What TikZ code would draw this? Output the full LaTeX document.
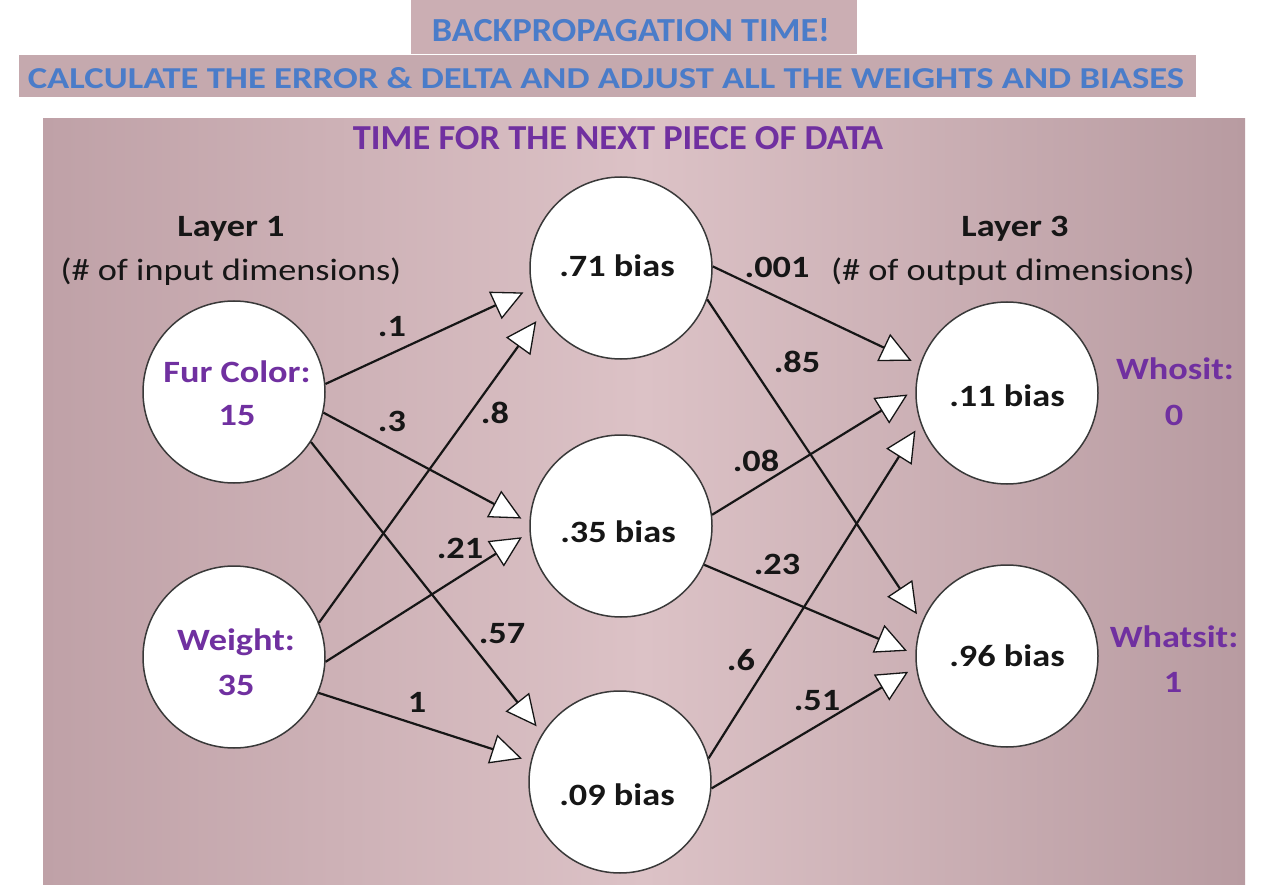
\documentclass[tikz,border=0pt]{standalone}
\usepackage{fontspec}
\setmainfont{Carlito}
\usepackage{graphicx}
\usetikzlibrary{arrows.meta}
\definecolor{bgmid}{HTML}{DCC2C6}
\definecolor{bgleft}{HTML}{BFA1A7}
\definecolor{bgright}{HTML}{B89BA1}
\definecolor{boxc}{HTML}{CBAEB3}
\definecolor{ttblue}{HTML}{4A7CC9}
\definecolor{ttpurple}{HTML}{7030A0}
\definecolor{ink}{HTML}{161616}
\newcommand\hs[1]{\scalebox{1.17}[1]{#1}}
\begin{document}
\begin{tikzpicture}[x=1pt,y=-1pt,
  neuron/.style={circle, draw=ink!85, line width=1.5pt, fill=white, minimum size=182pt, inner sep=0pt},
  txt/.style={font=\fontsize{31}{42}\selectfont\bfseries, text=ink, anchor=base, inner sep=0pt},
  regtxt/.style={font=\fontsize{31}{42}\selectfont, text=ink, anchor=base, inner sep=0pt},
  ptxt/.style={txt, text=ttpurple},
  conn/.style={draw=ink, line width=2.2pt, shorten >=9pt,
    -{Triangle[length=31pt,width=30pt,fill=white,line width=1.3pt]}},
  title/.style={anchor=base, inner sep=0pt, font=\bfseries}
]
\useasboundingbox (0,0) rectangle (1264,885);
% panels
\fill[white] (0,0) rectangle (1264,885);
\fill[boxc] (411,0) rectangle (857,54);
\fill[boxc!97!black] (19,55) rectangle (1196,97);
\fill[left color=bgleft, right color=bgright, middle color=bgmid] (43,119) rectangle (1245,885);
% titles
\node[title, text=ttblue] (t1) at (631,42) {\resizebox{398pt}{23pt}{BACKPROPAGATION TIME!}};
\node[title, text=ttblue] (t2) at (606,89) {\resizebox{1156pt}{21pt}{CALCULATE THE ERROR \& DELTA AND ADJUST ALL THE WEIGHTS AND BIASES}};
\node[title, text=ttpurple] (t3) at (618,150) {\resizebox{530pt}{23pt}{TIME FOR THE NEXT PIECE OF DATA}};
% layer captions
\node[txt] (l1) at (231,237) {\hs{Layer 1}};
\node[regtxt] (l1s) at (231,281) {\hs{(\# of input dimensions)}};
\node[txt] (l3) at (1015,237) {\hs{Layer 3}};
\node[regtxt] (l3s) at (1013,281) {\hs{(\# of output dimensions)}};
% neurons
\node[neuron] (f) at (234,392) {};
\node[neuron] (w) at (234,657) {};
\node[neuron] (h1) at (621,268) {};
\node[neuron] (h2) at (621,526) {};
\node[neuron] (h3) at (620,782) {};
\node[neuron] (o1) at (1007,393) {};
\node[neuron] (o2) at (1007,656) {};
% connectors
\draw[conn] (f.5) -- (h1.193);
\draw[conn] (w.22) -- (h1.210);
\draw[conn] (f.-13) -- (h2.178);
\draw[conn] (f.-33) -- (h3.148);
\draw[conn] (w.-3) -- (h2.184);
\draw[conn] (w.-23) -- (h3.167);
\draw[conn] (h1.1) -- (o1.162);
\draw[conn] (h1.-20) -- (o2.158);
\draw[conn] (h2.7) -- (o1.178);
\draw[conn] (h2.-25) -- (o2.179);
\draw[conn] (h3.15) -- (o1.199.5);
\draw[conn] (h3.-4) -- (o2.187);
% neuron texts
\node[ptxt] (fa) at (237,382) {\hs{Fur Color:}};
\node[ptxt] (fb) at (237,425) {\hs{15}};
\node[ptxt] (wa) at (236,650) {\hs{Weight:}};
\node[ptxt] (wb) at (236,695) {\hs{35}};
\node[txt] (h1t) at (617,277) {\hs{.71 bias}};
\node[txt] (h2t) at (618,542) {\hs{.35 bias}};
\node[txt] (h3t) at (617,805) {\hs{.09 bias}};
\node[txt] (o1t) at (1007,406) {\hs{.11 bias}};
\node[txt] (o2t) at (1007,666) {\hs{.96 bias}};
% outputs
\node[ptxt] (oa) at (1175,380) {\hs{Whosit:}};
\node[ptxt] (ob) at (1174,425) {\hs{0}};
\node[ptxt] (pa) at (1174,647) {\hs{Whatsit:}};
\node[ptxt] (pb) at (1173,692) {\hs{1}};
% weight labels
\node[txt] (e1) at (392,337) {\hs{.1}};
\node[txt] (e2) at (392,431) {\hs{.3}};
\node[txt] (e3) at (495,423) {\hs{.8}};
\node[txt] (e4) at (460,558) {\hs{.21}};
\node[txt] (e5) at (502,643) {\hs{.57}};
\node[txt] (e6) at (417,712) {\hs{1}};
\node[txt] (e7) at (777,278) {\hs{.001}};
\node[txt] (e8) at (797,373) {\hs{.85}};
\node[txt] (e9) at (756,471) {\hs{.08}};
\node[txt] (e10) at (777,574) {\hs{.23}};
\node[txt] (e11) at (741,670) {\hs{.6}};
\node[txt] (e12) at (817,710) {\hs{.51}};
\end{tikzpicture}
\end{document}
